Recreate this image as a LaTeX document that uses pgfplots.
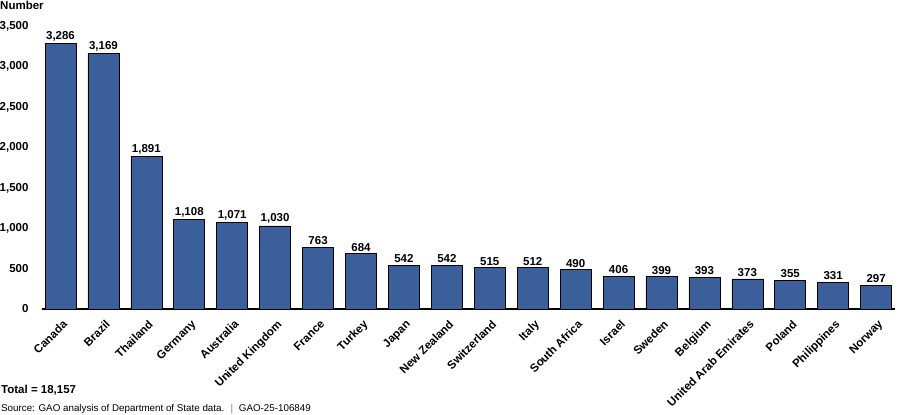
\documentclass[border=0pt]{standalone}
\usepackage{fontspec}
\setmainfont{Liberation Sans}
\usepackage{pgfplots}
\pgfplotsset{compat=1.18}
\definecolor{barblue}{RGB}{58,95,155}
\newcommand{\lab}{\fontsize{11.5bp}{13bp}\selectfont\bfseries}
\begin{document}
\begin{tikzpicture}
\path[use as bounding box] (0,0) rectangle (900bp,415bp);
\begin{axis}[
 at={(42bp,106bp)}, anchor=south west,
 scale only axis, width=853bp, height=282.5bp,
 xmin=-0.431, xmax=19.44, ymin=0, ymax=3500,
 ybar, bar width=31bp,
 xtick=data,
 xticklabels={Canada,Brazil,Thailand,Germany,Australia,United Kingdom,France,Turkey,Japan,New Zealand,Switzerland,Italy,South Africa,Israel,Sweden,Belgium,United Arab Emirates,Poland,Philippines,Norway},
 ytick={0,500,...,3500},
 axis x line*=bottom, axis y line*=left,
 y axis line style={draw=none},
 x axis line style={line width=2.8bp,-},
 major tick length=0pt,
 tick label style={font=\lab},
 /pgf/number format/assume math mode=true,
 /pgf/number format/1000 sep={,},
 xticklabel style={rotate=45, anchor=north east, inner sep=1pt, xshift=-5bp, yshift=-7bp},
 yticklabel style={anchor=east, xshift=-10bp},
 nodes near coords,
 nodes near coords style={font=\lab, anchor=south, inner sep=2bp},
 clip=false,
]
\addplot[fill=barblue, draw=black, line width=0.6bp] coordinates {
(0,3286) (1,3169) (2,1891) (3,1108) (4,1071) (5,1030) (6,763) (7,684) (8,542) (9,542)
(10,515) (11,512) (12,490) (13,406) (14,399) (15,393) (16,373) (17,355) (18,331) (19,297)};
\end{axis}
\node[anchor=base west, inner sep=0pt, font=\lab] at (0bp,405bp) {Number};
\node[anchor=base west, inner sep=0pt, font=\lab] at (1bp,22bp) {Total = 18,157};
\node[anchor=base west, inner sep=0pt, font=\fontsize{9.8bp}{11bp}\selectfont] at (1bp,4bp) {Source: GAO analysis of Department of State data. \ $|$ \ GAO-25-106849};
\end{tikzpicture}
\end{document}
